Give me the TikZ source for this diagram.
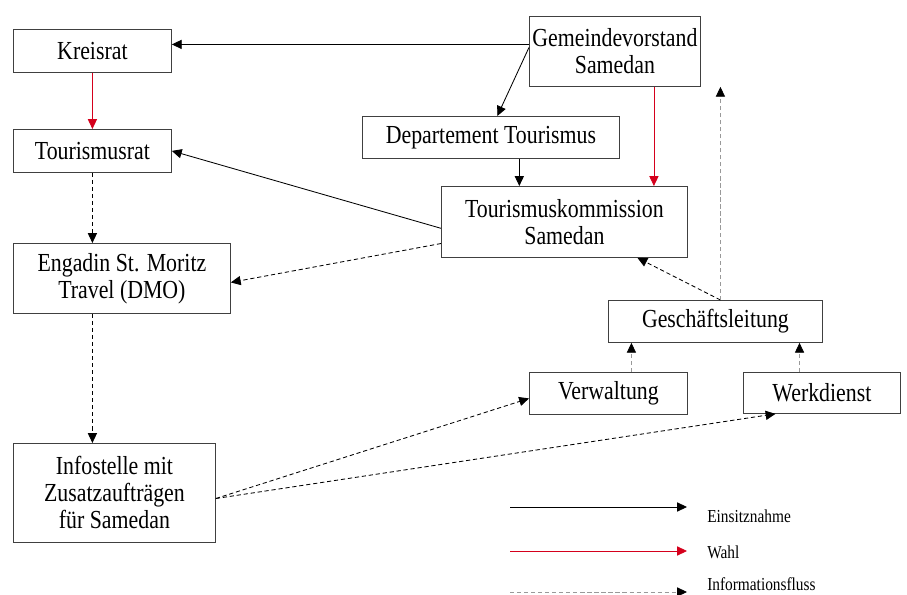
\documentclass[tikz,border=0pt]{standalone}
\usepackage{fontspec}
\setmainfont[FakeStretch=0.84]{Liberation Serif}
\usepackage{xcolor}
\usetikzlibrary{positioning, arrows.meta, calc}
\definecolor{wahlrot}{RGB}{213,0,28}
\tikzset{
  box/.style={draw=black!75, line width=0.6pt, align=center, inner sep=0pt, font=\fontsize{18.5}{19.2}\selectfont},
  einsitz/.style={-{Triangle[length=7pt,width=6.5pt]}, line width=0.6pt},
  wahl/.style={einsitz, color=wahlrot},
  infofluss/.style={einsitz, dash pattern=on 3pt off 2pt},
  infograu/.style={-{Triangle[length=7pt,width=6.5pt,color=black]}, line width=0.6pt, draw=black!40, dash pattern=on 3pt off 2pt},
  legtext/.style={anchor=west, inner sep=0pt, font=\fontsize{13}{15}\selectfont}
}
\begin{document}
\begin{tikzpicture}
\useasboundingbox (0,0) rectangle (22.675,-14.875);
\coordinate (origo) at (0,0);
\node[box, minimum width=3.95cm, minimum height=1.075cm, below right = 0.725cm and 0.325cm of origo](Kreisrat){Kreisrat};
\node[box, minimum width=3.95cm, minimum height=1.075cm, below right = 3.225cm and 0.325cm of origo](Tourismusrat){Tourismusrat};
\node[box, minimum width=5.425cm, minimum height=1.75cm, below right = 6.075cm and 0.325cm of origo](DMO){Engadin St. Moritz\\Travel (DMO)};
\node[box, minimum width=5.05cm, minimum height=2.475cm, below right = 11.075cm and 0.325cm of origo](Infostelle){Infostelle mit\\Zusatzaufträgen\\für Samedan};
\node[box, minimum width=4.275cm, minimum height=1.75cm, below right = 0.4cm and 13.225cm of origo](Vorstand){Gemeindevorstand\\Samedan};
\node[box, minimum width=6.425cm, minimum height=1.05cm, below right = 2.9cm and 9.05cm of origo](Departement){Departement Tourismus};
\node[box, minimum width=6.15cm, minimum height=1.775cm, below right = 4.65cm and 11.025cm of origo](Kommission){Tourismuskommission\\Samedan};
\node[box, minimum width=5.35cm, minimum height=1.05cm, below right = 7.5cm and 15.2cm of origo](GL){Geschäftsleitung};
\node[box, minimum width=3.95cm, minimum height=1.05cm, below right = 9.3cm and 13.225cm of origo](Verwaltung){Verwaltung};
\node[box, minimum width=3.925cm, minimum height=1.025cm, below right = 9.3cm and 18.575cm of origo](Werkdienst){Werkdienst};
\draw[einsitz] ([yshift=0.175cm]Vorstand.west) -- ([yshift=0.175cm]Vorstand.west -| Kreisrat.east);
\draw[einsitz] ([yshift=0.1cm]Vorstand.west) -- ([xshift=0.16cm]Departement.north);
\draw[einsitz] ([xshift=0.71cm]Departement.south) -- ([xshift=0.71cm]Departement.south |- Kommission.north);
\draw[wahl] ([xshift=0.975cm]Vorstand.south) -- ([xshift=0.975cm]Vorstand.south |- Kommission.north);
\draw[wahl] (Kreisrat) -- (Tourismusrat);
\draw[einsitz] ([yshift=-0.16cm]Kommission.west) -- (Tourismusrat.east);
\draw[infofluss] (Tourismusrat.south) -- (Tourismusrat.south |- DMO.north);
\draw[infofluss] ([yshift=-0.54cm]Kommission.west) -- ([yshift=-0.1cm]DMO.east);
\draw[infofluss] (Tourismusrat.south |- DMO.south) -- (Tourismusrat.south |- Infostelle.north);
\draw[infofluss] ([xshift=0.125cm]GL.north) -- ([xshift=1.825cm]Kommission.south);
\draw[infograu] ([xshift=0.125cm]GL.north) -- ([xshift=0.125cm]GL.north |- Vorstand.south);
\draw[infograu] ([xshift=0.575cm]Verwaltung.north) -- ([xshift=0.575cm]Verwaltung.north |- GL.south);
\draw[infograu] ([xshift=-0.56cm]Werkdienst.north) -- ([xshift=-0.56cm]Werkdienst.north |- GL.south);
\draw[infofluss] ([yshift=-0.14cm]Infostelle.east) -- ([yshift=-0.125cm]Verwaltung.west);
\draw[infofluss] ([yshift=-0.14cm]Infostelle.east) -- ([xshift=-1.16cm]Werkdienst.south);
\coordinate[below right = 12.675cm and 12.75cm of origo](EinStart);
\coordinate[right = 4.425cm of EinStart](EinEnd);
\coordinate[below right = 13.775cm and 12.75cm of origo](WahlStart);
\coordinate[right = 4.425cm of WahlStart](WahlEnd);
\coordinate[below right = 14.8cm and 12.75cm of origo](InfoStart);
\coordinate[right = 4.425cm of InfoStart](InfoEnd);
\draw[einsitz] (EinStart) -- (EinEnd);
\draw[wahl] (WahlStart) -- (WahlEnd);
\draw[infograu] (InfoStart) -- (InfoEnd);
\node[legtext, right = 0.5cm of EinEnd, yshift=-0.225cm](EinText){Einsitznahme};
\node[legtext, right = 0.5cm of WahlEnd, yshift=-0.025cm](WahlText){Wahl};
\node[legtext, right = 0.5cm of InfoEnd, yshift=0.2cm](InfoText){Informationsfluss};
\end{tikzpicture}
\end{document}
